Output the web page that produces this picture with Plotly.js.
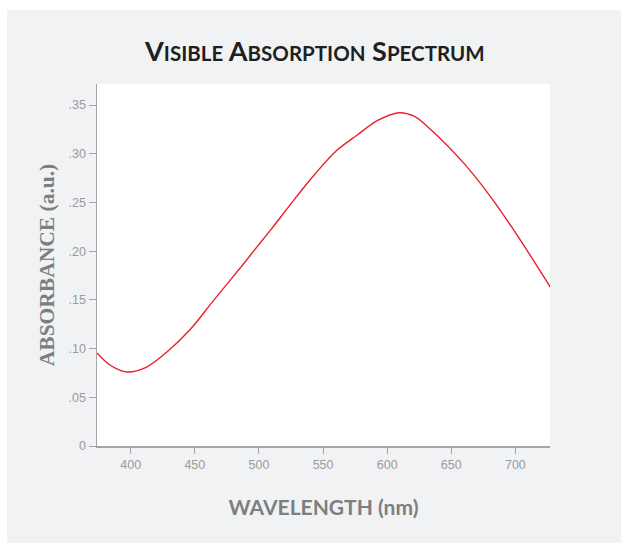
<!DOCTYPE html>
<html>
<head>
<meta charset="utf-8">
<script src="https://cdn.plot.ly/plotly-3.0.1.min.js"></script>
<style>
  html, body { margin:0; padding:0; background:#ffffff; width:621px; height:544px; overflow:hidden; }
  #bg { position:absolute; left:7px; top:10px; width:614px; height:533px; background:#f1f2f4; }
  #plot { position:absolute; left:0; top:0; width:621px; height:544px; }
</style>
</head>
<body>
<div id="bg"></div>
<div id="plot"></div>
<script>
// Wavelength (nm) and absorbance (a.u.)
const wavelength = [373.7, 384.1, 397.1, 412.0, 428.0, 446.0, 464.8, 488.2, 509.0, 527.2, 542.9, 561.0, 576.7, 592.3, 609.2, 620.9, 633.9, 659.9, 680.7, 701.6, 726.3, 727.5];
const absorbance = [0.0955, 0.0829, 0.0760, 0.0808, 0.0962, 0.1190, 0.1497, 0.1874, 0.2216, 0.2524, 0.2780, 0.3038, 0.3192, 0.3339, 0.3421, 0.3385, 0.3250, 0.2901, 0.2558, 0.2160, 0.1651, 0.1626];

const xTickVals = [400, 450, 500, 550, 600, 650, 700];
const yTickVals = [0, 0.05, 0.10, 0.15, 0.20, 0.25, 0.30, 0.35];
const yTickText = ['0', '.05', '.10', '.15', '.20', '.25', '.30', '.35'];

const trace = {
  x: wavelength,
  y: absorbance,
  type: 'scatter',
  mode: 'lines',
  line: { color: '#e8212b', width: 1.4, shape: 'spline', smoothing: 1 },
  hoverinfo: 'skip'
};

const axisGray = '#a3a5a8';
const layout = {
  width: 621,
  height: 544,
  paper_bgcolor: 'rgba(0,0,0,0)',
  plot_bgcolor: '#ffffff',
  margin: { l: 97, r: 71, t: 84, b: 98 },
  showlegend: false,
  title: {
    text: "<b>V<span style='font-size:20.5px'>ISIBLE</span> A<span style='font-size:20.5px'>BSORPTION</span> S<span style='font-size:20.5px'>PECTRUM</span></b>",
    font: { family: 'Lato, "Open Sans", sans-serif', size: 27, color: '#1f1f1f' },
    x: 0.507, xanchor: 'center', xref: 'container',
    y: 0.905, yanchor: 'middle', yref: 'container'
  },
  xaxis: {
    range: [373.7, 727.0],
    tickvals: xTickVals,
    ticks: 'outside', ticklen: 6, tickwidth: 1, tickcolor: axisGray,
    showline: true, linecolor: axisGray, linewidth: 1.5,
    showgrid: false, zeroline: false,
    tickfont: { family: '"Liberation Sans", Arial, sans-serif', size: 12.5, color: '#9a9b9e' },
    title: {
      text: '<b>WAVELENGTH (nm)</b>',
      font: { family: 'Lato, "Open Sans", sans-serif', size: 21, color: '#7d7e80' },
      standoff: 30
    },
    fixedrange: true
  },
  yaxis: {
    range: [0, 0.3716],
    tickvals: yTickVals,
    ticktext: yTickText,
    ticks: 'outside', ticklen: 7, tickwidth: 1, tickcolor: axisGray,
    showline: true, linecolor: axisGray, linewidth: 1.5,
    showgrid: false, zeroline: false,
    tickfont: { family: '"Liberation Sans", Arial, sans-serif', size: 12.5, color: '#9a9b9e' },
    title: {
      text: '<b>ABSORBANCE (a.u.)</b>',
      font: { family: '"Liberation Serif", "DejaVu Serif", serif', size: 21.5, color: '#7d7e80' },
      standoff: 8
    },
    fixedrange: true
  }
};

Plotly.newPlot('plot', [trace], layout, { displayModeBar: false, staticPlot: true });
</script>
</body>
</html>
